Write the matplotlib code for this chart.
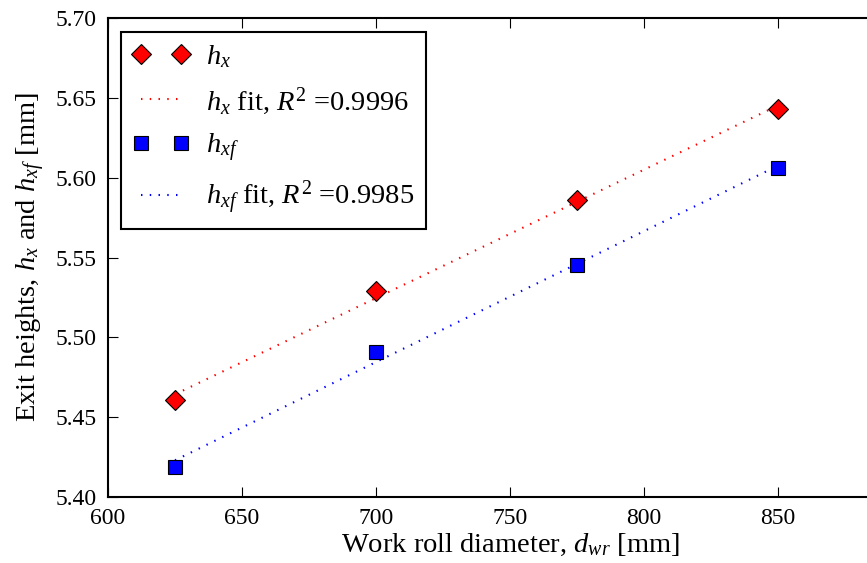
import numpy as np
import matplotlib
matplotlib.use('Agg')
import matplotlib.pyplot as plt

# roll diameter [mm] and exit heights [mm]
d_wr = [625, 700, 775, 850]
h_x = [5.461, 5.529, 5.586, 5.643]
h_xf = [5.419, 5.491, 5.545, 5.606]
r2_labels = ['0.9996', '0.9985']

plt.rcParams['font.family'] = 'Liberation Serif'
plt.rcParams['mathtext.fontset'] = 'custom'
plt.rcParams['mathtext.rm'] = 'Liberation Serif'
plt.rcParams['mathtext.it'] = 'Liberation Serif:italic'
plt.rcParams['xtick.direction'] = 'in'
plt.rcParams['ytick.direction'] = 'in'
plt.rcParams['xtick.top'] = True
plt.rcParams['ytick.right'] = True

fig = plt.figure(figsize=(8.67, 5.63), dpi=100)
ax = fig.add_axes([108 / 867, 66 / 563, 804 / 867, 479 / 563])

x = np.array(d_wr, dtype=float)
fit_x = np.polyval(np.polyfit(x, h_x, 1), x)
fit_xf = np.polyval(np.polyfit(x, h_xf, 1), x)

dots = (0, (0.7, 3.5))
ax.plot(x, h_x, 'D', color='red', mec='black', mew=0.8, ms=10, label=r'$h_x$', zorder=3)
ax.plot(x, fit_x, linestyle=dots, color='red', lw=1.5, label=r'$h_x$ fit, $R^2$ =' + r2_labels[0])
ax.plot(x, h_xf, 's', color='blue', mec='black', mew=0.8, ms=10, label=r'$h_{xf}$', zorder=3)
ax.plot(x, fit_xf, linestyle=dots, color='blue', lw=1.5, label=r'$h_{xf}$ fit, $R^2$ =' + r2_labels[1])

ax.set_xlim(600, 900)
ax.set_ylim(5.40, 5.70)
ax.set_xticks([600, 650, 700, 750, 800, 850])
ax.set_yticks(np.arange(5.40, 5.701, 0.05))
ax.set_yticklabels(['%.2f' % v for v in np.arange(5.40, 5.701, 0.05)])
ax.tick_params(labelsize=17, length=7, width=0.8, pad=8)
for s in ax.spines.values():
    s.set_linewidth(1.5)

ax.set_xlabel(r'Work roll diameter, $d_{wr}$ [mm]', fontsize=20.5, labelpad=2)
ax.set_ylabel(r'Exit heights, $h_x$ and $h_{xf}$ [mm]', fontsize=20.5, labelpad=6)

leg = ax.legend(loc='upper left', numpoints=2, fontsize=20.5, fancybox=False,
                framealpha=1, edgecolor='black', handlelength=2.0,
                handletextpad=0.6, borderpad=0.4, labelspacing=0.52,
                borderaxespad=0, bbox_to_anchor=(13 / 804, 1 - 14 / 479))
leg.get_frame().set_linewidth(1.5)

fig.savefig('out.png', dpi=100)
